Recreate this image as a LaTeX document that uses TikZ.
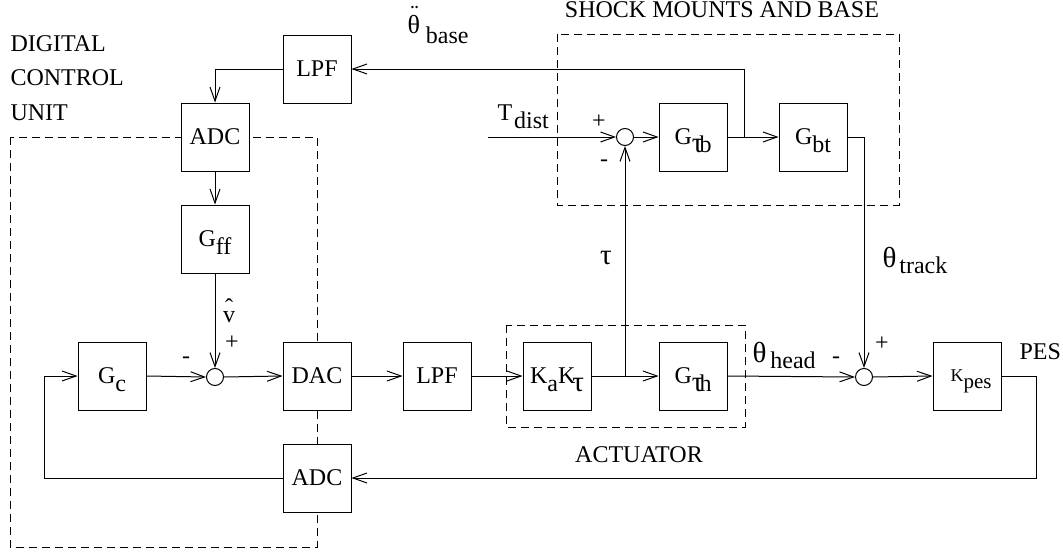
\documentclass[tikz,border=0pt]{standalone}
\usepackage{fontspec}
\setmainfont{Liberation Serif}
\usetikzlibrary{arrows.meta}
\newcommand{\lo}[2][8pt]{\raisebox{-#1}[0pt][0pt]{#2}}
\newcommand{\gk}[1]{{\fontsize{29}{30}\selectfont #1}}
\begin{document}
\begin{tikzpicture}[x=1pt,y=-1pt, line width=1pt,
  every node/.style={font=\fontsize{24}{28}\selectfont, inner sep=0pt},
  blk/.style={draw, fill=white, minimum width=68pt, minimum height=68pt},
  sumc/.style={circle, draw, fill=white, minimum size=17pt},
  dbox/.style={draw, dash pattern=on 8pt off 5pt, line width=0.8pt},
  arr/.style={-{Straight Barb[length=14pt,width=10pt]}}]
\useasboundingbox (0,0) rectangle (1063,554);
% dashed group boxes
\draw[dbox] (10,137) rectangle (317,547);
\draw[dbox] (557,34) rectangle (899,205);
\draw[dbox] (506,325) rectangle (745,427);
% blocks
\node[blk] (lpfT) at (317,69) {LPF};
\node[blk] (adcT) at (215,137) {ADC};
\node[blk] (gff) at (215,239) {G\lo{ff}};
\node[blk] (gc) at (112,376) {G\lo{c}};
\node[sumc] (s1) at (215,377) {};
\node[blk] (dac) at (317,376) {DAC};
\node[blk] (lpfB) at (437,376) {LPF};
\node[blk] (ka) at (557,376) {K\lo{a}K\kern-3pt\lo{\gk{τ}}};
\node[blk] (gth) at (693,376) {G\lo{\gk{τ}\kern-4pt h}};
\node[sumc] (s3) at (864,377) {};
\node[blk] (kpes) at (967,376) {\hspace*{8pt}\fontsize{18}{20}\selectfont K\lo[7pt]{\fontsize{21}{22}\selectfont pes}};
\node[blk] (adcB) at (317,478) {ADC};
\node[sumc] (s2) at (625,137) {};
\node[blk] (gtb) at (693,137) {G\lo{\gk{τ}\kern-4pt b}};
\node[blk] (gbt) at (813,137) {G\lo{bt}};
% coordinates
\coordinate (br1) at (625,376);
\coordinate (br2) at (744,137);
\coordinate (tin) at (488,137);
\coordinate (fbL) at (44,478);
\coordinate (pesR) at (1036,376);
% connectors
\draw[arr] (lpfT.west) -| (adcT.north);
\draw[arr] (adcT.south) -- (gff.north);
\draw[arr] (gff.south) -- (s1.north);
\draw[arr] (gc.east) -- (s1.west);
\draw[arr] (s1.east) -- (dac.west);
\draw[arr] (dac.east) -- (lpfB.west);
\draw[arr] (lpfB.east) -- (ka.west);
\draw[arr] (ka.east) -- (gth.west);
\draw[arr] (br1) -- (s2.south);
\draw[arr] (gth.east) -- (s3.west);
\draw[arr] (s3.east) -- (kpes.west);
\draw[arr] (kpes.east) -- (pesR) |- (adcB.east);
\draw[arr] (adcB.west) -- (fbL) |- (gc.west);
\draw[arr] (tin) -- (s2.west);
\draw[arr] (s2.east) -- (gtb.west);
\draw[arr] (gtb.east) -- (gbt.west);
\draw[arr] (br2) |- (lpfT.east);
\draw[arr] (gbt.east) -| (s3.north);
% labels
\node[anchor=north west, align=left, font=\fontsize{24}{34.5}\selectfont] (dcu) at (10,35) {DIGITAL\\CONTROL\\UNIT};
\node[anchor=base] (smlbl) at (722,17) {SHOCK MOUNTS AND BASE};
\node[anchor=base] (actlbl) at (639,462) {ACTUATOR};
\node[anchor=base west] (peslbl) at (1019,359) {PES};
\node (taulbl) at (606,258) {\gk{τ}};
\node[anchor=base west] (tdl) at (497,120) {T\kern2pt\lo{dist}};
\node[anchor=base west] (thtr) at (882,267) {\gk{θ}\kern3pt\lo[6pt]{track}};
\node[anchor=base west] (thhd) at (752,362) {\gk{θ}\kern4pt\lo[6pt]{head}};
\node[anchor=base west] (thbs) at (407,33) {\makebox[0pt][l]{\kern3pt\raisebox{12pt}{¨}}{\fontsize{26}{28}\selectfont θ}\kern6pt\lo[10pt]{base}};
\node (vhat) at (229,311) {\makebox[0pt][l]{\kern2pt\raisebox{7pt}{ˆ}}v};
\node (p1) at (232,343) {+};
\node (m1) at (186,360) {-};
\node (p2) at (599,122) {+};
\node (m2) at (604,163) {-};
\node (p3) at (882,344) {+};
\node (m3) at (836,360) {-};
\end{tikzpicture}
\end{document}
